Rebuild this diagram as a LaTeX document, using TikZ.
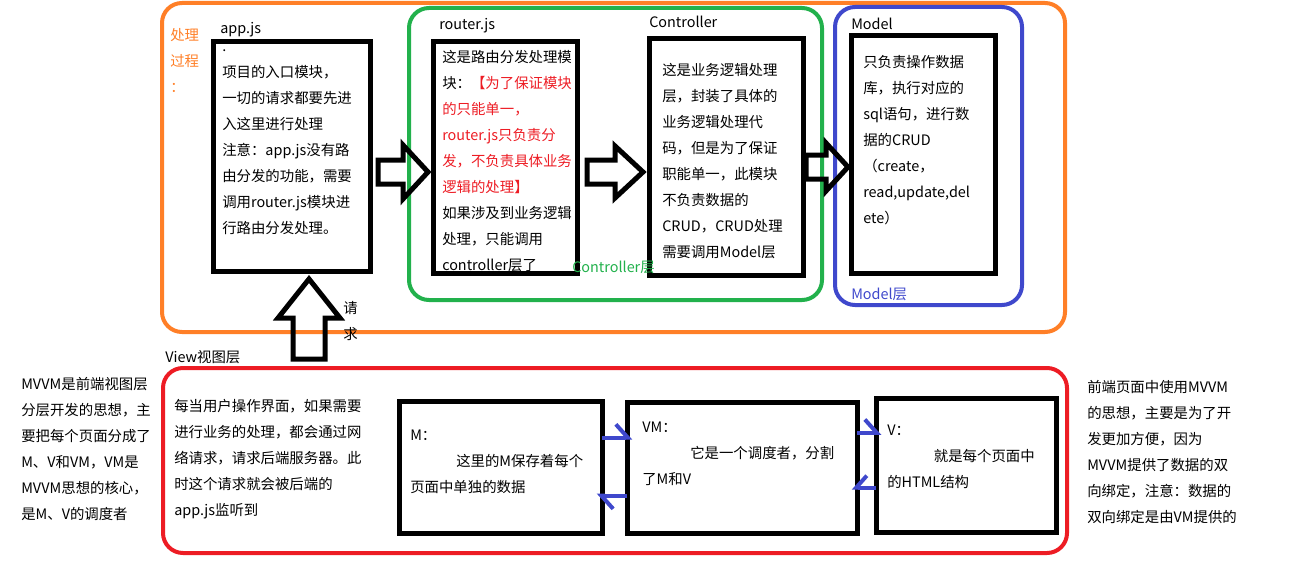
\documentclass[tikz,border=0pt]{standalone}
\usepackage{fontspec}
\setmainfont{Noto Sans CJK SC}
\usepackage{tikz}
\usetikzlibrary{arrows.meta}
\definecolor{procorange}{RGB}{255,127,39}
\definecolor{ctrlgreen}{RGB}{34,177,76}
\definecolor{modelblue}{RGB}{63,72,204}
\definecolor{viewred}{RGB}{237,28,36}

\begin{document}
\begin{tikzpicture}[x=0.75pt,y=-0.75pt,
  layer/.style={draw,line width=3pt,rounded corners=15pt,anchor=north west,inner sep=0pt,outer sep=0pt},
  module/.style={draw,line width=3.75pt,anchor=north west,inner sep=0pt,outer sep=0pt},
  txt/.style={anchor=north west,align=left,inner sep=0pt,font=\fontsize{10.8}{19.5}\selectfont},
  fat/.style={draw,line width=3.75pt,line join=miter},
  harp/.style={draw=modelblue,line width=3pt,shorten >=-4pt,-{Straight Barb[harpoon,length=9pt,width=20pt]}},
  harpswap/.style={draw=modelblue,line width=3pt,shorten >=-4pt,-{Straight Barb[harpoon,swap,length=8pt,width=18pt]}}]

  \useasboundingbox (0,0) rectangle (1301,585);

  % layers
  \node[layer,draw=procorange,minimum width=677.25pt,minimum height=246.75pt] (proc) at (162,3) {};
  \node[layer,draw=ctrlgreen,minimum width=309.75pt,minimum height=219pt] (ctrllayer) at (409,8) {};
  \node[layer,draw=modelblue,minimum width=140.25pt,minimum height=223.5pt] (modellayer) at (835,7) {};
  \node[layer,draw=viewred,minimum width=678pt,minimum height=138.75pt] (viewlayer) at (163,368) {};

  % modules
  \node[module,minimum width=117.75pt,minimum height=171.75pt] (app) at (213,42) {};
  \node[module,minimum width=108pt,minimum height=173.25pt] (router) at (433,42) {};
  \node[module,minimum width=115.5pt,minimum height=177pt] (ctrl) at (649,39) {};
  \node[module,minimum width=108pt,minimum height=177.75pt] (model) at (851,36) {};
  \node[module,minimum width=152.25pt,minimum height=99pt] (mbox) at (399,401) {};
  \node[module,minimum width=172.5pt,minimum height=98.25pt] (vmbox) at (627,402) {};
  \node[module,minimum width=135pt,minimum height=100.5pt] (vbox) at (876,398) {};

  % fat arrows
  \draw[fat] (378,160) -- (403,160) -- (403,145) -- (428,172) -- (403,199) -- (403,184) -- (378,184) -- cycle;
  \draw[fat] (587,160) -- (615,160) -- (615,146) -- (643,172) -- (615,198) -- (615,184) -- (587,184) -- cycle;
  \draw[fat] (806,155) -- (826,155) -- (826,143) -- (848,167) -- (826,191) -- (826,179) -- (806,179) -- cycle;
  \draw[fat] (309,279) -- (340,318) -- (325,318) -- (325,359) -- (293,359) -- (293,318) -- (278,318) -- cycle;

  % binding arrows
  \draw[harp] ([yshift=22pt]mbox.east) -- ([yshift=22pt]mbox.east -| vmbox.west);
  \draw[harp] ([yshift=-21pt]vmbox.west) -- ([yshift=-21pt]vmbox.west -| mbox.east);
  \draw[harp] ([yshift=26pt]vmbox.east) -- ([yshift=26pt]vmbox.east -| vbox.west);
  \draw[harpswap] ([yshift=-17pt]vbox.west) -- ([yshift=-17pt]vbox.west -| vmbox.east);

  % labels
  \node[txt,text=procorange] (proclabel) at (170,22) {\strut 处理\\过程\\：};
  \node[txt] (applabel) at (220,15) {\strut app.js};
  \node[txt] (routerlabel) at (439,11) {\strut router.js};
  \node[txt] (ctrllabel) at (649,9) {\strut Controller};
  \node[txt] (modellabel) at (851,11) {\strut Model};
  \node[txt,text=ctrlgreen] (ctrlname) at (572,254) {\strut Controller层};
  \node[txt,text=modelblue] (modelname) at (851,281) {\strut Model层};
  \node[txt] (viewname) at (165,344) {\strut View视图层};
  \node[txt] (req) at (343,295) {\strut 请\\求};

  \node[txt] (apptext) at (222,33) {\strut .\\项目的入口模块，\\一切的请求都要先进\\入这里进行处理\\注意：app.js没有路\\由分发的功能，需要\\调用router.js模块进\\行路由分发处理。};
  \node[txt] (routertext) at (442,44) {\strut 这是路由分发处理模\\块：\textcolor{viewred}{【为了保证模块}\\\textcolor{viewred}{的只能单一，}\\\textcolor{viewred}{router.js只负责分}\\\textcolor{viewred}{发，不负责具体业务}\\\textcolor{viewred}{逻辑的处理】}\\如果涉及到业务逻辑\\处理，只能调用\\controller层了};
  \node[txt] (ctrltext) at (662,57) {\strut 这是业务逻辑处理\\层，封装了具体的\\业务逻辑处理代\\码，但是为了保证\\职能单一，此模块\\不负责数据的\\CRUD，CRUD处理\\需要调用Model层};
  \node[txt] (modeltext) at (863,49) {\strut 只负责操作数据\\库，执行对应的\\sql语句，进行数\\据的CRUD\\（create，\\read,update,del\\ete）};

  \node[txt] (mvvmtext) at (21,371) {\strut MVVM是前端视图层\\分层开发的思想，主\\要把每个页面分成了\\M、V和VM，VM是\\MVVM思想的核心，\\是M、V的调度者};
  \node[txt] (viewtext) at (174,393) {\strut 每当用户操作界面，如果需要\\进行业务的处理，都会通过网\\络请求，请求后端服务器。此\\时这个请求就会被后端的\\app.js监听到};
  \node[txt] (mtext) at (410,422) {\strut M：\\\hspace*{34.5pt}这里的M保存着每个\\页面中单独的数据};
  \node[txt] (vmtext) at (642,414) {\strut VM：\\\hspace*{36pt}它是一个调度者，分割\\了M和V};
  \node[txt] (vtext) at (887,417) {\strut V：\\\hspace*{35pt}就是每个页面中\\的HTML结构};
  \node[txt] (bindtext) at (1087,374) {\strut 前端页面中使用MVVM\\的思想，主要是为了开\\发更加方便，因为\\MVVM提供了数据的双\\向绑定，注意：数据的\\双向绑定是由VM提供的};
\end{tikzpicture}
\end{document}
